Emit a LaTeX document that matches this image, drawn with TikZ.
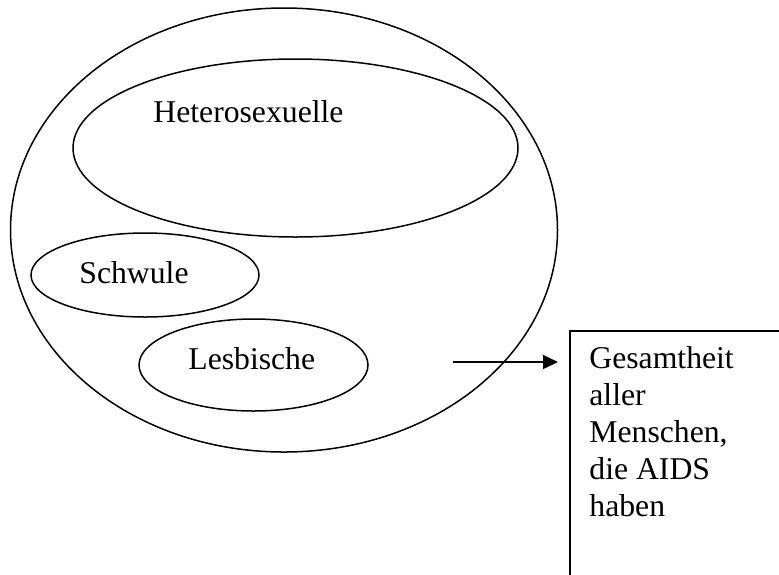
\documentclass[tikz,border=0pt]{standalone}
\usepackage{fontspec}
\setmainfont{Liberation Serif}
\usetikzlibrary{shapes.geometric,arrows.meta}
\begin{document}
\begin{tikzpicture}[x=0.5pt,y=-0.5pt,font=\fontsize{15.85}{18.5}\selectfont]
    \tikzstyle{set node}=[ellipse,draw,line width=0.75pt,inner sep=0]
    \tikzstyle{word node}=[inner sep=0,anchor=base west]
    \tikzstyle{box node}=[rectangle,draw,line width=1pt,inner sep=0,anchor=north west]
    \tikzstyle{arr}=[line width=0.75pt,-{Triangle[length=7.5pt,width=7pt]}]

    \clip (0,0) rectangle (779,574);

    \node(0)[set node,minimum width=273.5pt,minimum height=222pt] at (284,230){};
    \node(1)[set node,minimum width=222.5pt,minimum height=89pt] at (295.5,148){};
    \node(2)[set node,minimum width=114pt,minimum height=42pt] at (145,275){};
    \node(3)[set node,minimum width=114.5pt,minimum height=46pt] at (253.5,365){};

    \node(t1)[word node] at (153,122){Heterosexuelle};
    \node(t2)[word node] at (79,283){Schwule};
    \node(t3)[word node] at (188,369){Lesbische};

    \node(4)[box node,minimum width=300pt,minimum height=200pt] at (569,330){};
    \node(t4)[word node,align=left] at (589,516){Gesamtheit\\aller\\Menschen,\\die AIDS\\haben};

    \coordinate(a) at (453,362);
    \draw[arr,shorten >=5.5pt](a)--(a -| 4.west);
\end{tikzpicture}
\end{document}
